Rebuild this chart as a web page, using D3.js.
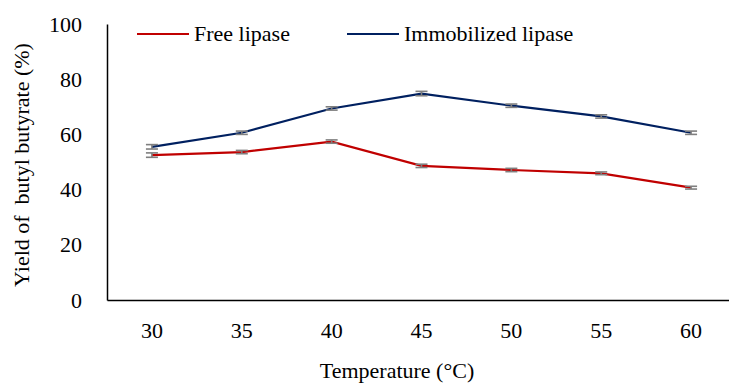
<!DOCTYPE html>
<html lang="en">
  <head>
    <meta charset="UTF-8" />
    <title>Yield of butyl butyrate vs temperature</title>
    <script src="https://d3js.org/d3.v7.min.js"></script>
  </head>
  <body style="margin: 0; background: #ffffff; font-family: 'Liberation Serif'">
    <div id="chart" style="font-family: 'Liberation Serif'"></div>
    <script>
      // Data
      const temperatures = ["30", "35", "40", "45", "50", "55", "60"];
      const freeLipase = [52.5, 53.6, 57.4, 48.6, 47.1, 45.9, 40.7];
      const immobilizedLipase = [55.5, 60.6, 69.4, 74.8, 70.4, 66.5, 60.6];
      const errFree = [0.8, 0.6, 0.6, 0.6, 0.6, 0.5, 0.5];
      const errImmobilized = [0.8, 0.6, 0.6, 0.8, 0.6, 0.6, 0.6];
      const yTicks = [0, 20, 40, 60, 80, 100];

      const width = 729,
        height = 383;
      const margin = { top: 24, right: -7, bottom: 83, left: 107 };

      const svg = d3
        .select("#chart")
        .append("svg")
        .attr("width", width)
        .attr("height", height)
        .attr("font-family", "Liberation Serif")
        .attr("font-size", 22);

      const x = d3
        .scaleBand()
        .domain(temperatures)
        .range([margin.left, width - margin.right]);

      const y = d3
        .scaleLinear()
        .domain([0, 100])
        .range([height - margin.bottom, margin.top]);

      const cx = (d) => x(d) + x.bandwidth() / 2;

      // Y axis (drop d3's own sans-serif font so the serif is inherited)
      const yAxis = svg
        .append("g")
        .attr("transform", "translate(" + margin.left + ",0)")
        .call(d3.axisLeft(y).tickValues(yTicks).tickSize(0).tickPadding(25))
        .attr("font-family", null)
        .attr("font-size", null);
      yAxis.select(".domain").attr("stroke", "#000").attr("stroke-width", 1.5);
      yAxis.selectAll("text").attr("fill", "#000");

      // X axis
      const xAxis = svg
        .append("g")
        .attr("transform", "translate(0," + y(0) + ")")
        .call(d3.axisBottom(x).tickSize(0).tickPadding(22))
        .attr("font-family", null)
        .attr("font-size", null);
      xAxis.select(".domain").attr("stroke", "#000").attr("stroke-width", 1.5);
      xAxis.selectAll("text").attr("fill", "#000");

      // Series
      const series = [
        { name: "Free lipase", values: freeLipase, err: errFree, color: "#c00000" },
        { name: "Immobilized lipase", values: immobilizedLipase, err: errImmobilized, color: "#002060" },
      ];

      const line = d3
        .line()
        .x((d, i) => cx(temperatures[i]))
        .y((d) => y(d));

      series.forEach((s) => {
        svg
          .append("path")
          .datum(s.values)
          .attr("fill", "none")
          .attr("stroke", s.color)
          .attr("stroke-width", 2.2)
          .attr("d", line);

        // Error bars
        const eb = svg
          .append("g")
          .selectAll("g")
          .data(s.values)
          .enter()
          .append("g")
          .attr("stroke", "#7f7f7f")
          .attr("stroke-width", 1.6);
        eb.append("line")
          .attr("x1", (d, i) => cx(temperatures[i]))
          .attr("x2", (d, i) => cx(temperatures[i]))
          .attr("y1", (d, i) => y(d - s.err[i]))
          .attr("y2", (d, i) => y(d + s.err[i]));
        eb.append("line")
          .attr("x1", (d, i) => cx(temperatures[i]) - 6)
          .attr("x2", (d, i) => cx(temperatures[i]) + 6)
          .attr("y1", (d, i) => y(d - s.err[i]))
          .attr("y2", (d, i) => y(d - s.err[i]));
        eb.append("line")
          .attr("x1", (d, i) => cx(temperatures[i]) - 6)
          .attr("x2", (d, i) => cx(temperatures[i]) + 6)
          .attr("y1", (d, i) => y(d + s.err[i]))
          .attr("y2", (d, i) => y(d + s.err[i]));
      });

      // Legend
      const legendX = [137, 347];
      const legend = svg
        .selectAll(".legend")
        .data(series)
        .enter()
        .append("g")
        .attr("class", "legend")
        .attr("transform", (d, i) => "translate(" + legendX[i] + ",34)");
      legend
        .append("line")
        .attr("x1", 0)
        .attr("x2", 52)
        .attr("stroke", (d) => d.color)
        .attr("stroke-width", 2);
      legend
        .append("text")
        .attr("x", 57)
        .attr("y", 7)
        .text((d) => d.name);

      // Axis titles
      svg
        .append("text")
        .attr("x", 397)
        .attr("y", 378)
        .attr("text-anchor", "middle")
        .text("Temperature (°C)");

      svg
        .append("text")
        .attr("transform", "translate(29,165) rotate(-90)")
        .attr("text-anchor", "middle")
        .attr("xml:space", "preserve")
        .text("Yield of  butyl butyrate (%)");
    </script>
  </body>
</html>
